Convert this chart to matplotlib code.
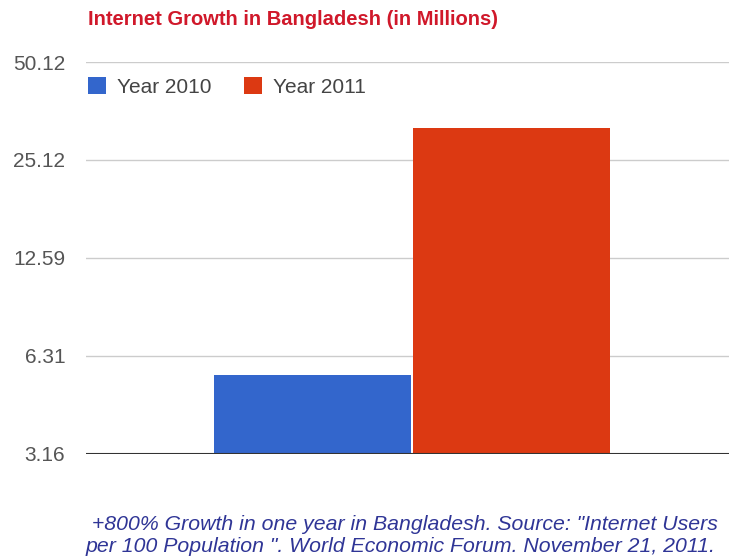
import matplotlib
matplotlib.use('Agg')
import matplotlib.pyplot as plt

# data (log scale, millions)
series = ['Year 2010', 'Year 2011']
values = [5.5, 31.5]
colors = ['#3366cc', '#dc3912']
tick_vals = [3.16, 6.31, 12.59, 25.12, 50.12]
tick_labels = ['3.16', '6.31', '12.59', '25.12', '50.12']

title = 'Internet Growth in Bangladesh (in Millions)'
note = (' +800% Growth in one year in Bangladesh. Source: "Internet Users\n'
        'per 100 Population ". World Economic Forum. November 21, 2011.')

plt.rcParams['font.family'] = ['Liberation Sans', 'DejaVu Sans']

fig = plt.figure(figsize=(7.29, 5.59), dpi=100)
ax = fig.add_axes([0.118, 0.188, 0.882, 0.701])

xs = list(range(len(values)))
bars = ax.bar(xs, values, width=0.99, color=colors, label=series, zorder=3)

ax.set_yscale('log')
ax.set_ylim(3.16, 50.12)
ax.set_xlim(-1.136, 2.095)
ax.set_yticks(tick_vals)
ax.set_yticklabels(tick_labels)
ax.minorticks_off()
ax.set_xticks([])
ax.tick_params(axis='y', length=0, pad=15, labelsize=15, labelcolor='#555555')

for v in tick_vals[1:]:
    ax.axhline(v, color='#cccccc', lw=1, zorder=1)
ax.axhline(tick_vals[0], color='#333333', lw=1.5, zorder=4)
for s in ax.spines.values():
    s.set_visible(False)

leg = ax.legend(handles=list(bars), labels=series, loc='upper left',
                bbox_to_anchor=(-0.01, 0.982), ncol=2, frameon=False,
                fontsize=15, handlelength=0.85, handleheight=0.85,
                handletextpad=0.55, columnspacing=1.55, borderaxespad=0)
for t in leg.get_texts():
    t.set_color('#444444')

fig.text(0.121, 0.965, title, color='#d0182a', fontsize=14.5, fontweight='bold',
         va='center')

fig.text(0.118, 0.042, note, color='#2f3596', fontsize=15.3, style='italic',
         va='center', ha='left', linespacing=1.25)

fig.savefig('out.png', dpi=100, facecolor='white')
